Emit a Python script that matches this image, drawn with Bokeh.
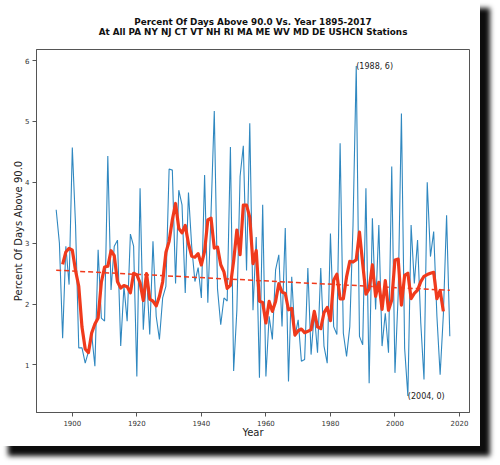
import numpy as np
import pandas as pd
from bokeh.plotting import figure
from bokeh.models import Range1d, Label, FixedTicker, Title
from bokeh.embed import file_html
from bokeh.resources import INLINE

# ---- data ----
years = list(range(1895, 2018))
pct_days = [
    3.55, 3.0, 1.44, 2.95, 2.32, 4.57, 3.3, 1.28, 1.28, 1.03,   # 1895-1904
    1.22, 1.5, 0.98, 2.89, 1.77, 1.72, 4.43, 2.23, 2.95, 3.05,   # 1905-1914
    1.31, 2.29, 1.72, 3.15, 2.95, 0.81, 3.9, 1.58, 2.5, 1.5,     # 1915-1924
    3.03, 1.8, 1.42, 2.1, 2.29, 4.22, 4.2, 2.34, 3.87, 3.63,     # 1925-1934
    2.18, 3.83, 2.95, 2.37, 2.6, 2.1, 4.12, 2.02, 3.5, 5.17,     # 1935-1944
    2.25, 1.66, 2.1, 2.05, 4.58, 0.9, 1.9, 4.1, 4.6, 2.55,       # 1945-1954
    4.97, 1.9, 3.1, 0.79, 3.63, 0.81, 1.8, 1.42, 2.56, 2.81,     # 1955-1964
    1.63, 3.25, 0.73, 2.45, 1.47, 1.74, 1.06, 1.09, 2.59, 1.17,  # 1965-1974
    1.85, 1.2, 2.59, 1.31, 1.03, 3.16, 1.63, 1.5, 4.64, 1.52,    # 1975-1984
    1.14, 1.63, 3.3, 5.91, 1.47, 1.33, 3.9, 0.7, 3.41, 1.91,     # 1985-1994
    3.3, 1.31, 1.85, 1.2, 4.26, 0.87, 2.16, 5.13, 1.27, 0.49,    # 1995-2004
    3.3, 2.34, 3.05, 1.69, 0.76, 4.0, 2.78, 3.19, 1.8, 0.84,     # 2005-2014
    1.83, 3.46, 1.47,                                            # 2015-2017
]
x_ticks = [1900, 1920, 1940, 1960, 1980, 2000, 2020]
y_ticks = [1, 2, 3, 4, 5, 6]
title_line1 = "Percent Of Days Above 90.0 Vs. Year 1895-2017"
title_line2 = "At All PA NY NJ CT VT NH RI MA ME WV MD DE USHCN Stations"

yrs = np.array(years, dtype=float)
vals = np.array(pct_days, dtype=float)
smooth = pd.Series(vals).rolling(5, center=True).mean().to_numpy()
slope, intercept = np.polyfit(yrs, vals, 1)
trend_x = [yrs[0], yrs[-1]]
trend_y = [slope * yrs[0] + intercept, slope * yrs[-1] + intercept]

span_x = yrs.max() - yrs.min()
span_y = vals.max() - vals.min()
x0, x1 = yrs.min() - 0.05 * span_x, yrs.max() + 0.05 * span_x
y0, y1 = vals.min() - 0.05 * span_y, vals.max() + 0.05 * span_y

FONT = "DejaVu Sans"

p = figure(frame_width=433, frame_height=363, x_range=Range1d(x0, x1), y_range=Range1d(y0, y1),
           output_backend="svg", toolbar_location=None,
           min_border_left=36, min_border_right=11, min_border_top=49, min_border_bottom=34)
p.background_fill_color = "white"
p.border_fill_color = "white"
p.outline_line_color = "#555555"
p.outline_line_width = 1
p.grid.visible = False
p.styles = {"box-shadow": "9px 9px 5px 1px rgba(0,0,0,0.95)"}

p.add_layout(Title(text=title_line1 + "\n" + title_line2, align="center",
                   text_align="center", text_font=FONT, text_font_size="8.8px",
                   text_font_style="bold", text_color="#111111", text_line_height=1.0,
                   standoff=26), "above")

p.line(yrs, vals, line_color="#3088c0", line_width=1.1)
p.line(yrs, smooth, line_color="#f03a1c", line_width=3.2, line_join="round")
p.line(trend_x, trend_y, line_color="#f03a1c", line_width=1.5, line_dash="5 3")

imax = int(np.argmax(vals))
imin = int(np.argmin(vals))
for i in (imax, imin):
    p.add_layout(Label(x=yrs[i], y=vals[i], text=f"({years[i]}, {int(round(vals[i]))})",
                       text_font=FONT, text_font_size="8px", text_color="#222222",
                       text_baseline="alphabetic", text_align="left"))

for ax in (p.xaxis[0], p.yaxis[0]):
    ax.axis_line_color = "#555555"
    ax.major_tick_line_color = "#555555"
    ax.major_tick_out = 4
    ax.major_tick_in = 0
    ax.minor_tick_line_color = None
    ax.major_label_text_font = FONT
    ax.major_label_text_font_size = "7px"
    ax.major_label_text_color = "#333333"
    ax.axis_label_text_font = FONT
    ax.axis_label_text_font_size = "10px"
    ax.axis_label_text_font_style = "normal"
    ax.axis_label_text_color = "#222222"
    ax.major_label_standoff = 3

p.xaxis.axis_label_standoff = -2
p.yaxis.axis_label_standoff = -2
p.xaxis.ticker = FixedTicker(ticks=x_ticks)
p.yaxis.ticker = FixedTicker(ticks=y_ticks)
p.xaxis.axis_label = "Year"
p.yaxis.axis_label = "Percent Of Days Above 90.0"

open("out.html", "w").write(file_html(p, INLINE))
